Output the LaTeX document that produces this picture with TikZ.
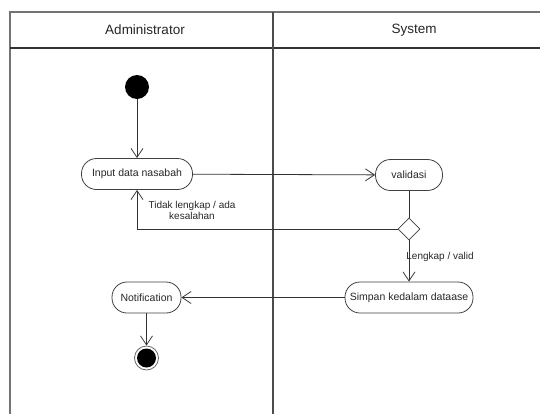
\documentclass[tikz,border=0pt]{standalone}
\usepackage{fontspec}
\setmainfont{Liberation Sans}
\usepackage{tikz}
\usetikzlibrary{shapes,arrows.meta,positioning}

\begin{document}
\begin{tikzpicture}[x=1pt, y=-1pt, thick]
\tikzstyle{lane} = [draw=black!55, line width=1.3pt]
\tikzstyle{activity} = [rectangle, draw=black!75, line width=0.8pt, rounded corners=15pt, minimum height=31pt, text=black!85, font=\fontsize{10.5}{12}\selectfont, inner sep=0pt]
\tikzstyle{decision} = [diamond, draw=black!75, line width=0.8pt, fill=white, minimum width=22pt, minimum height=22pt, inner sep=0pt]
\tikzstyle{arrow} = [line width=0.8pt, draw=black!80, -{Straight Barb[length=9pt,width=12pt]}]
\tikzstyle{guard} = [text=black!85, font=\fontsize{10}{11}\selectfont, align=center]

\useasboundingbox (0,0) rectangle (540,413);
\clip (0,0) rectangle (540,413);

% swimlanes
\draw [lane] (10,430) -- (10,12) -- (560,12);
\draw [lane, draw=black!80] (10,48) -- (560,48);
\draw [lane, draw=black!70] (273,12) -- (273,430);
\node [font=\fontsize{13.5}{15}\selectfont, text=black!85] (admin) at (145,30) {Administrator};
\node [font=\fontsize{13.5}{15}\selectfont, text=black!85] (system) at (414,30) {System};

% nodes
\node [circle, fill=black, minimum size=24pt, inner sep=0pt] (start) at (137,87) {};
\node [activity, minimum width=111pt] (input) at (137,174) {Input data nasabah};
\node [activity, minimum width=67pt] (valid) at (409,175) {validasi};
\node [decision] (check) at (409,229) {};
\node [activity, minimum width=128pt] (simpan) at (409,297.5) {Simpan kedalam dataase};
\node [activity, minimum width=69pt] (notif) at (146.5,297.5) {Notification};
\node [circle, draw=black!60, line width=0.8pt, minimum size=24pt, inner sep=0pt] (end) at (146.5,358) {};
\fill [black] (end.center) circle (9.5pt);

% flows
\draw [arrow] (start) -- (input);
\draw [arrow] (input) -- (valid);
\draw [line width=0.8pt, draw=black!80] (valid) -- (check);
\draw [arrow] (check.west) -| (input.south);
\draw [arrow] (check) -- (simpan);
\draw [arrow] (simpan) -- (notif);
\draw [arrow] (notif) -- (end);

% guards
\node [guard] (gfail) at (192,210) {Tidak lengkap / ada\\kesalahan};
\node [guard, anchor=west, inner sep=0pt] (gok) at (406,257) {Lengkap / valid};
\end{tikzpicture}
\end{document}
